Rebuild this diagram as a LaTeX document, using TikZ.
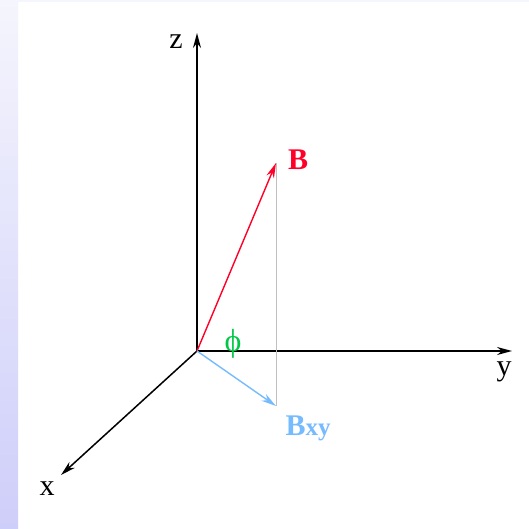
\documentclass[tikz,border=0pt]{standalone}
\usepackage{fontspec}
\setmainfont{Liberation Serif}
\usetikzlibrary{arrows.meta}
\definecolor{fieldred}{RGB}{255,0,40}
\definecolor{fieldblue}{RGB}{119,187,255}
\definecolor{anglegreen}{RGB}{0,200,70}
\definecolor{stripblue}{RGB}{206,206,250}
\definecolor{striptop}{RGB}{245,245,253}
\tikzset{
  axis/.style={line width=1.5pt, -{Stealth[length=15pt,width=8pt]}},
  vec/.style={line width=1.4pt, -{Stealth[length=15pt,width=8pt]}},
  lbl/.style={font=\fontsize{30}{32}\selectfont, inner sep=0pt}
}
\begin{document}
\begin{tikzpicture}[x=1pt,y=-1pt]
			% Frame and side strip
			\useasboundingbox (0,0) rectangle (529,529);
			\fill[white] (0,0) rectangle (529,529);
			\shade[top color=striptop, bottom color=stripblue] (0,0) rectangle (18,529);
			\fill[striptop] (18,0) rectangle (529,2);

			% Points
			\coordinate (O) at (197,351);
			\coordinate (zend) at (197,33);
			\coordinate (yend) at (512,351);
			\coordinate (xend) at (61,475);
			\coordinate (Btip) at (276,163);
			\coordinate (Bxy) at (276,406);

			% Draw axes
			\draw[axis] (O) -- (zend);
			\draw[axis] (O) -- (yend);
			\draw[axis] (O) -- (xend);
			\node[lbl] (zlab) at (176,42) {z};
			\node[lbl] (ylab) at (504,372) {y};
			\node[lbl] (xlab) at (47,489) {x};

			% Draw projection line
			\draw[black!25, line width=0.8pt] (Btip) -- (Bxy);

			% Draw field vectors
			\draw[vec, fieldred] (O) -- (Btip);
			\draw[vec, fieldblue] (O) -- (Bxy);
			\node[lbl, fieldred, font=\fontsize{30}{32}\selectfont\bfseries] (Blab) at (298,160) {B};
			\node[lbl, fieldblue, font=\fontsize{30}{32}\selectfont\bfseries] (Bxylab) at (308,428) {B\fontsize{25}{27}\selectfont xy};

			% Angle label
			\node[lbl, anglegreen, font=\fontsize{32}{34}\selectfont] (philab) at (233,344) {ϕ};
\end{tikzpicture}
\end{document}
